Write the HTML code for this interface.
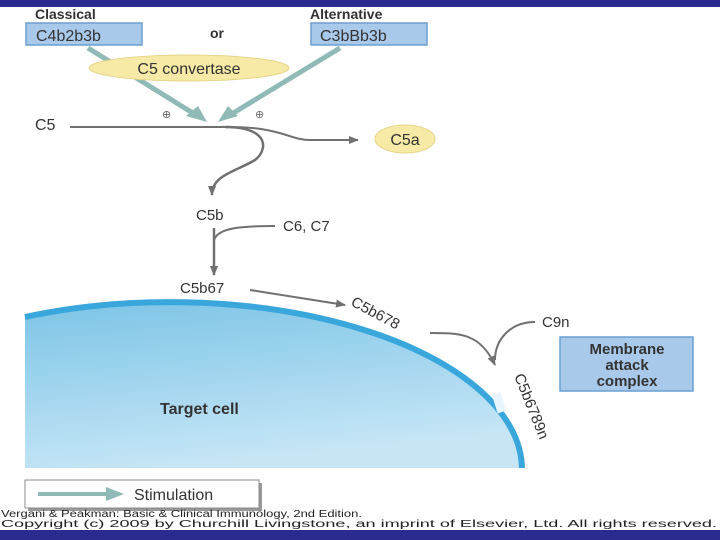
<!DOCTYPE html>
<html><head><meta charset="utf-8"><style>
html,body{margin:0;padding:0;background:#fff;}
svg{display:block;}
text{font-family:"Liberation Sans",Arial,sans-serif;}
</style></head><body>
<svg width="720" height="540" viewBox="0 0 720 540" xmlns="http://www.w3.org/2000/svg">
<defs>
<linearGradient id="cell" x1="0" y1="0" x2="0.3" y2="1">
<stop offset="0" stop-color="#7cc4e6"/><stop offset="1" stop-color="#c6e6f6"/>
</linearGradient>
<marker id="ah" markerWidth="10" markerHeight="8" refX="9" refY="4" orient="auto" markerUnits="userSpaceOnUse">
<path d="M0,0 L10,4 L0,8 Z" fill="#707070"/></marker>
</defs>
<rect x="0" y="0" width="720" height="7" fill="#2b2b8f"/>
<rect x="0" y="530" width="720" height="10" fill="#2b2b8f"/>

<text x="35" y="19" font-size="14" font-weight="bold" fill="#333">Classical</text>
<text x="310" y="19" font-size="14" font-weight="bold" fill="#333">Alternative</text>
<text x="210" y="38" font-size="14" font-weight="bold" fill="#333">or</text>
<rect x="26" y="23" width="116" height="22" fill="#a9c9ea" stroke="#6a9fd0" stroke-width="1.5"/>
<text x="36" y="41" font-size="16" fill="#333">C4b2b3b</text>
<rect x="311" y="23" width="116" height="22" fill="#a9c9ea" stroke="#6a9fd0" stroke-width="1.5"/>
<text x="320" y="41" font-size="16" fill="#333">C3bBb3b</text>

<g stroke="#8fbab5" stroke-width="5" fill="none">
<line x1="88" y1="48" x2="196" y2="115"/>
<line x1="340" y1="48" x2="230" y2="115"/>
</g>
<path d="M207,122 L186,116 L198,106 Z" fill="#8fbab5"/>
<path d="M218,122 L238,116 L228,106 Z" fill="#8fbab5"/>
<ellipse cx="189" cy="68" rx="100" ry="13" fill="#f7eaa6" stroke="#e6d58a"/>
<text x="189" y="74" font-size="16" text-anchor="middle" fill="#333">C5 convertase</text>
<text x="162" y="118" font-size="11" fill="#666">⊕</text>
<text x="255" y="118" font-size="11" fill="#666">⊕</text>

<text x="35" y="130" font-size="16" fill="#333">C5</text>
<g stroke="#707070" stroke-width="2" fill="none">
<path d="M70,127 L230,127 C280,127 290,140 310,140 L358,140" marker-end="url(#ah)"/>
<path d="M225,127 C270,127 268,150 255,160 C235,172 212,175 212,195" marker-end="url(#ah)" stroke-width="2.5"/>
<path d="M214,228 L214,275" marker-end="url(#ah)" stroke-width="2.5"/>
<path d="M214,240 C218,228 240,226 275,226"/>
<path d="M250,290 L345,305" marker-end="url(#ah)"/>
<path d="M430,333 C460,333 480,333 495,365" marker-end="url(#ah)"/>
<path d="M535,322 C510,322 495,340 495,360"/>
</g>
<ellipse cx="405" cy="139" rx="30" ry="14" fill="#f7eaa6" stroke="#e6d58a"/>
<text x="405" y="145" font-size="16" text-anchor="middle" fill="#333">C5a</text>
<text x="196" y="220" font-size="15" fill="#333">C5b</text>
<text x="283" y="231" font-size="15" fill="#333">C6, C7</text>
<text x="180" y="293" font-size="15" fill="#333">C5b67</text>
<text x="542" y="327" font-size="15" fill="#333">C9n</text>

<path d="M25,468 L25,317 A352,168 0 0 1 522,468 Z" fill="url(#cell)"/>
<path d="M25,317 A352,168 0 0 1 522,468" fill="none" stroke="#3aa7dc" stroke-width="6"/>
<path d="M496,393 L502,412" stroke="#e8f5fc" stroke-width="9"/>
<text x="160" y="414" font-size="16" font-weight="bold" fill="#333">Target cell</text>
<text x="350" y="305" font-size="15" fill="#333" transform="rotate(28 350 305)">C5b678</text>
<text x="514" y="376" font-size="15" fill="#333" transform="rotate(68 514 376)">C5b6789n</text>

<rect x="560" y="337" width="133" height="54" fill="#a9c9ea" stroke="#6a9fd0" stroke-width="1.5"/>
<text x="627" y="354" font-size="15" font-weight="bold" text-anchor="middle" fill="#333">Membrane</text>
<text x="627" y="370" font-size="15" font-weight="bold" text-anchor="middle" fill="#333">attack</text>
<text x="627" y="386" font-size="15" font-weight="bold" text-anchor="middle" fill="#333">complex</text>

<rect x="28" y="483" width="234" height="28" fill="#999"/>
<rect x="25" y="480" width="234" height="28" fill="#fff" stroke="#888"/>
<line x1="38" y1="494" x2="108" y2="494" stroke="#8fbab5" stroke-width="4"/>
<path d="M106,487 L124,494 L106,501 Z" fill="#8fbab5"/>
<text x="134" y="500" font-size="16" fill="#333">Stimulation</text>
<text x="1" y="517" style="font-family:'Liberation Sans',sans-serif;font-size:10px" fill="#222" textLength="361" lengthAdjust="spacingAndGlyphs">Vergani &amp; Peakman: Basic &amp; Clinical Immunology, 2nd Edition.</text>
<text x="1" y="527" style="font-family:'Liberation Sans',sans-serif;font-size:10px" fill="#222" textLength="716" lengthAdjust="spacingAndGlyphs">Copyright (c) 2009 by Churchill Livingstone, an imprint of Elsevier, Ltd. All rights reserved.</text>
</svg>
</body></html>
